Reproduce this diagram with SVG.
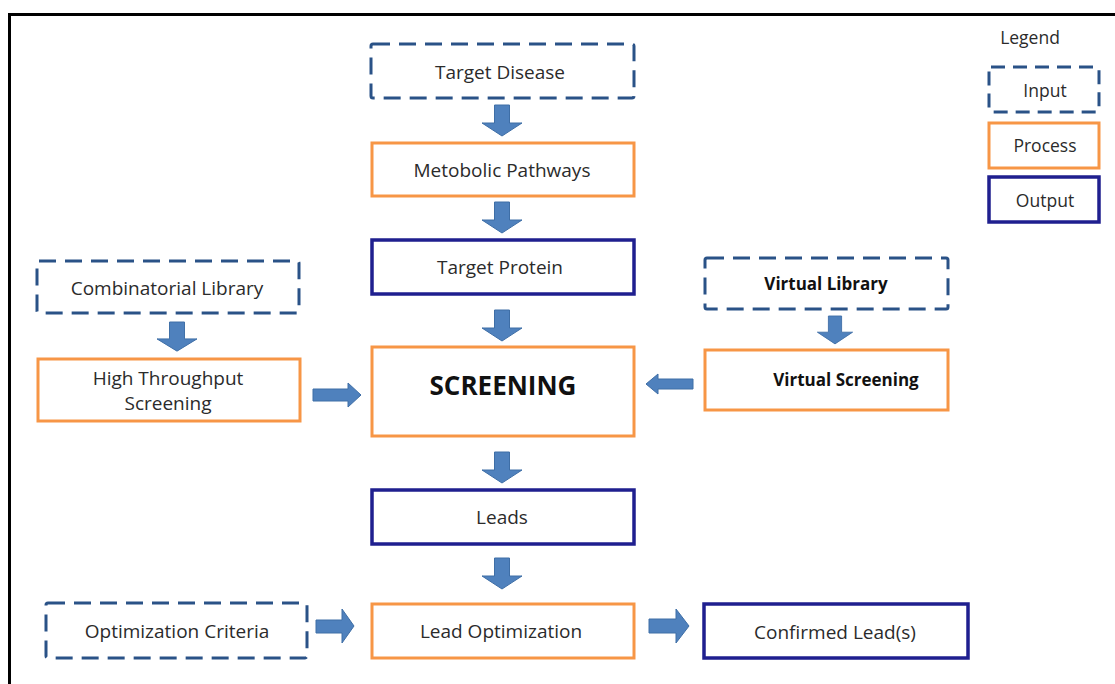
<svg xmlns="http://www.w3.org/2000/svg" width="1115" height="684" viewBox="0 0 1115 684">
<style>
.in{fill:#fff;stroke:#2a5287;stroke-width:3;stroke-dasharray:17,9;}
.pr{fill:#fff;stroke:#f79646;stroke-width:3;}
.out{fill:#fff;stroke:#1f1f8f;stroke-width:3.5;}
.t{font-family:"Open Sans","Liberation Sans",sans-serif;font-size:19px;fill:#2b2b2b;text-anchor:middle;dominant-baseline:central;}
.b{font-weight:bold;fill:#111;font-size:17px;}
.l{font-size:17.5px;}
.arr{fill:#4f81bd;stroke:#3e6ea6;stroke-width:1;}
</style>
<defs>
<path id="down" d="M-7.5,0 H7.5 V18 H20 L0,31 L-20,18 H-7.5 Z"/>
</defs>
<rect x="9.5" y="14.5" width="1115" height="680" fill="#fff" stroke="#000" stroke-width="3"/>

<g id="legend">
<text class="t l" x="1030" y="37">Legend</text>
<rect class="in" x="989" y="67" width="110" height="45" rx="2" style="stroke-dasharray:14,8"/>
<text class="t l" x="1045" y="90">Input</text>
<rect class="pr" x="989" y="123" width="110" height="45"/>
<text class="t l" x="1045" y="145">Process</text>
<rect class="out" x="989" y="177" width="110" height="45"/>
<text class="t l" x="1045" y="200">Output</text>
</g>

<g id="target-disease"><rect class="in" x="371" y="44" width="263" height="54" rx="2"/><text class="t" x="500" y="72">Target Disease</text></g>
<g id="metabolic"><rect class="pr" x="372" y="143" width="262" height="53"/><text class="t" x="502" y="170">Metobolic Pathways</text></g>
<g id="target-protein"><rect class="out" x="372" y="240" width="262" height="54"/><text class="t" x="500" y="267">Target Protein</text></g>
<g id="screening"><rect class="pr" x="372" y="347" width="262" height="89"/><text class="t" x="503" y="385" style="font-size:26px;font-weight:bold;fill:#111">SCREENING</text></g>
<g id="leads"><rect class="out" x="372" y="490" width="262" height="54"/><text class="t" x="502" y="517">Leads</text></g>
<g id="lead-opt"><rect class="pr" x="372" y="604" width="262" height="54"/><text class="t" x="501" y="631">Lead Optimization</text></g>
<g id="confirmed"><rect class="out" x="704" y="604" width="264" height="54"/><text class="t" x="835" y="632">Confirmed Lead(s)</text></g>
<g id="opt-criteria"><rect class="in" x="46" y="603" width="261" height="55" rx="2"/><text class="t" x="177" y="631">Optimization Criteria</text></g>
<g id="comb-lib"><rect class="in" x="37" y="261" width="262" height="52" rx="2"/><text class="t" x="167" y="288">Combinatorial Library</text></g>
<g id="hts"><rect class="pr" x="38" y="359" width="262" height="62"/><text class="t" x="168" y="378">High Throughput</text><text class="t" x="168" y="403">Screening</text></g>
<g id="virt-lib"><rect class="in" x="705" y="258" width="243" height="51" rx="2"/><text class="t b" x="826" y="283">Virtual Library</text></g>
<g id="virt-scr"><rect class="pr" x="705" y="350" width="243" height="60"/><text class="t b" x="846" y="379">Virtual Screening</text></g>

<g id="connectors">
<use href="#down" class="arr" transform="translate(502,105)"/>
<use href="#down" class="arr" transform="translate(502,202)"/>
<use href="#down" class="arr" transform="translate(502,310)"/>
<use href="#down" class="arr" transform="translate(502,452)"/>
<use href="#down" class="arr" transform="translate(502,558)"/>
<use href="#down" class="arr" transform="translate(177,322) scale(1,0.94)"/>
<use href="#down" class="arr" transform="translate(835,316) scale(0.88,0.9)"/>
<path class="arr" d="M313,389 H348 V383 L361,395 L348,407 V401 H313 Z"/>
<path class="arr" d="M693,379 H658 V374 L646,384 L658,394 V389 H693 Z"/>
<path class="arr" d="M316,620 H342 V609 L354,626 L342,643 V633 H316 Z"/>
<path class="arr" d="M649,619 H676 V609 L689,626 L676,643 V633 H649 Z"/>
</g>
</svg>
